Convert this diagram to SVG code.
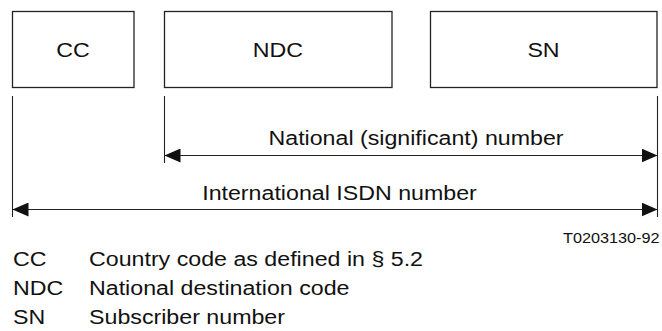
<svg xmlns="http://www.w3.org/2000/svg" width="662" height="331" viewBox="0 0 662 331">
<style>
.box{fill:#fff;stroke:#222;stroke-width:1.3}
.ln{stroke:#222;stroke-width:1.1;fill:none}
text{font-family:"Liberation Sans",Arial,sans-serif;font-size:20px;fill:#111}
.sm{font-size:14px}
</style>
<defs>
<marker id="ah" viewBox="0 0 16 14" refX="16" refY="7" markerWidth="16" markerHeight="14" markerUnits="userSpaceOnUse" orient="auto-start-reverse">
<path d="M0,0 L16,7 L0,14 Z" fill="#111"/>
</marker>
</defs>
<rect width="662" height="331" fill="#fff"/>
<g id="cc"><rect class="box" x="12.5" y="11.5" width="121.5" height="76"/><text x="73" y="57" text-anchor="middle" textLength="33.5" lengthAdjust="spacingAndGlyphs">CC</text></g>
<g id="ndc"><rect class="box" x="164.5" y="11.5" width="227.5" height="76"/><text x="278" y="57" text-anchor="middle" textLength="50.3" lengthAdjust="spacingAndGlyphs">NDC</text></g>
<g id="sn"><rect class="box" x="430.5" y="11.5" width="226.5" height="76"/><text x="543.5" y="57" text-anchor="middle" textLength="32.2" lengthAdjust="spacingAndGlyphs">SN</text></g>
<g id="connectors">
<line class="ln" x1="12.5" y1="96" x2="12.5" y2="217"/>
<line class="ln" x1="164.5" y1="96" x2="164.5" y2="163"/>
<line class="ln" x1="657.5" y1="96" x2="657.5" y2="217"/>
<line class="ln" x1="164.5" y1="155.5" x2="657.5" y2="155.5" marker-start="url(#ah)" marker-end="url(#ah)"/>
<line class="ln" x1="12.5" y1="209.5" x2="657.5" y2="209.5" marker-start="url(#ah)" marker-end="url(#ah)"/>
</g>
<text x="416" y="145" text-anchor="middle" textLength="295" lengthAdjust="spacingAndGlyphs">National (significant) number</text>
<text x="339.5" y="200" text-anchor="middle" textLength="274.6" lengthAdjust="spacingAndGlyphs">International ISDN number</text>
<text class="sm" x="563" y="243" textLength="96.6" lengthAdjust="spacingAndGlyphs">T0203130-92</text>
<g id="legend">
<text x="13" y="266" textLength="33.5" lengthAdjust="spacingAndGlyphs">CC</text>
<text x="89" y="266" textLength="334" lengthAdjust="spacingAndGlyphs">Country code as defined in § 5.2</text>
<text x="13" y="295" textLength="50.3" lengthAdjust="spacingAndGlyphs">NDC</text>
<text x="89" y="295" textLength="260.5" lengthAdjust="spacingAndGlyphs">National destination code</text>
<text x="13" y="324" textLength="32.2" lengthAdjust="spacingAndGlyphs">SN</text>
<text x="89" y="324" textLength="196" lengthAdjust="spacingAndGlyphs">Subscriber number</text>
</g>
</svg>
